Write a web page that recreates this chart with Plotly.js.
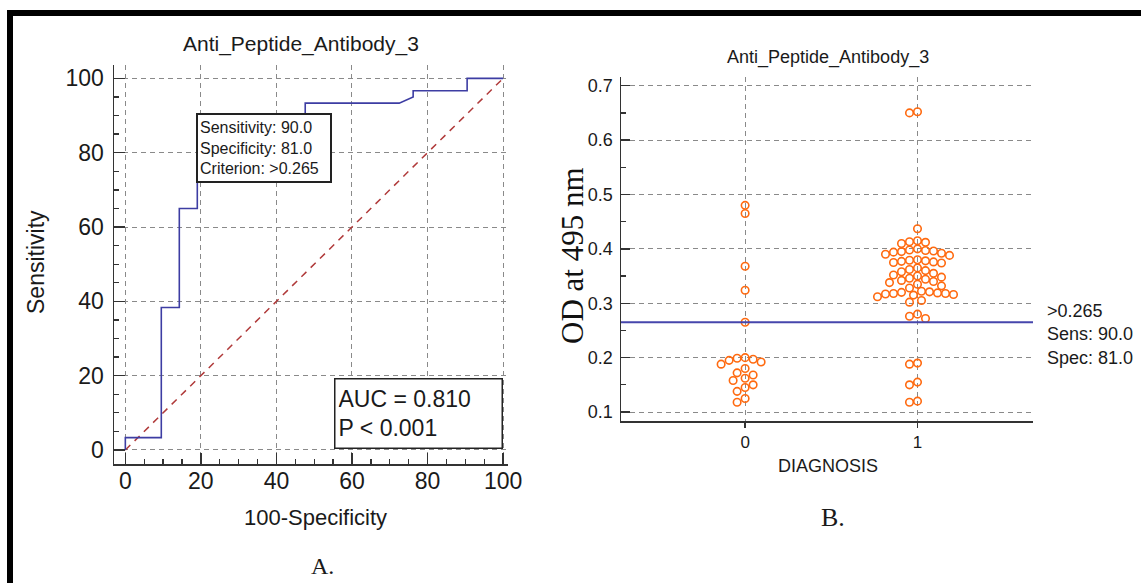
<!DOCTYPE html>
<html>
<head>
<meta charset="utf-8">
<script src="https://cdn.plot.ly/plotly-3.0.1.min.js"></script>
<style>
html,body{margin:0;padding:0;background:#fff;}
#chart{width:1141px;height:583px;}
</style>
</head>
<body>
<div id="chart"></div>
<script>
// ---------- DATA ----------
const chartTitle = "Anti_Peptide_Antibody_3";
// ROC curve (100-Specificity, Sensitivity)
const rocFPR  = [0, 0, 9.52, 9.52, 14.29, 14.29, 19.05, 19.05, 47.62, 47.62, 72.5, 76.19, 76.19, 90.48, 90.48, 100];
const rocSens = [0, 3.33, 3.33, 38.33, 38.33, 65, 65, 90, 90, 93.33, 93.33, 95, 96.67, 96.67, 100, 100];
const refLineX = [0, 100];
const refLineY = [0, 100];
const aucText = ["AUC = 0.810", "P < 0.001"];
const optSens = 90.0, optSpec = 81.0, criterion = 0.265;

// Dot plot: OD at 495 nm by DIAGNOSIS group
const diagCategories = [0, 1];
const odGroup0 = [0.480, 0.465, 0.368, 0.324, 0.265,
  0.200, 0.199, 0.197, 0.195, 0.192, 0.188, 0.180, 0.172, 0.168, 0.162, 0.158, 0.150, 0.145, 0.138, 0.125, 0.118];
const odGroup1 = [0.652, 0.650, 0.437,
  0.415, 0.413, 0.412, 0.410,
  0.400, 0.398, 0.397, 0.396, 0.395, 0.394, 0.392, 0.390, 0.388,
  0.380, 0.379, 0.378, 0.377, 0.376, 0.375, 0.374,
  0.365, 0.362, 0.360, 0.358, 0.355, 0.352, 0.350, 0.348, 0.346, 0.344, 0.342, 0.340, 0.338, 0.335, 0.332, 0.328,
  0.322, 0.321, 0.320, 0.319, 0.318, 0.318, 0.317, 0.316, 0.315, 0.312, 0.305, 0.302, 0.280, 0.276, 0.272,
  0.190, 0.188, 0.155, 0.150, 0.120, 0.118];

// ---------- LAYOUT GEOMETRY ----------
const W = 1141, H = 583;
const px = v => v / W;
const py = v => 1 - v / H;

const x1Range = [-3.0, 101.3], y1Range = [-3.77, 103.6];
const x2Range = [-0.72, 1.67], y2Range = [0.0835, 0.716];
const x2Dom = [px(621), px(1033)], y2Dom = [py(421), py(77)];

// beeswarm offsets computed from values (pixel-based collision)
function swarm(vals, center) {
  const xPxPerUnit = (x2Dom[1] - x2Dom[0]) * W / (x2Range[1] - x2Range[0]);
  const yPxPerUnit = (y2Dom[1] - y2Dom[0]) * H / (y2Range[1] - y2Range[0]);
  const d = 8.0, step = 4.0;
  const order = vals.map((v, i) => i).sort((a, b) => vals[b] - vals[a]);
  const placed = [];
  const xs = new Array(vals.length);
  for (const i of order) {
    const yp = vals[i] * yPxPerUnit;
    let chosen = 0;
    for (let k = 0; k < 200; k++) {
      const off = (k % 2 === 0 ? 1 : -1) * Math.ceil(k / 2) * step;
      let ok = true;
      for (const p of placed) {
        const dx = p[0] - off, dy = p[1] - yp;
        if (dx * dx + dy * dy < d * d) { ok = false; break; }
      }
      if (ok) { chosen = off; break; }
    }
    placed.push([chosen, yp]);
    xs[i] = center + chosen / xPxPerUnit;
  }
  return xs;
}

const orange = '#ff6a10';
const navy = '#3d3da3';
const textCol = '#1a1a1a';
const sans = 'Liberation Sans, Arial, sans-serif';
const serif = 'Liberation Serif, Times New Roman, serif';

const traces = [
  {x: refLineX, y: refLineY, xaxis: 'x', yaxis: 'y', mode: 'lines',
   line: {color: '#b03a3a', width: 1.5, dash: '7px,6px'}, hoverinfo: 'skip'},
  {x: rocFPR, y: rocSens, xaxis: 'x', yaxis: 'y', mode: 'lines',
   line: {color: navy, width: 1.6}},
  {x: swarm(odGroup0, diagCategories[0]), y: odGroup0, xaxis: 'x2', yaxis: 'y2', mode: 'markers',
   marker: {symbol: 'circle-open', size: 7.5, color: orange, line: {width: 1.6, color: orange}}},
  {x: swarm(odGroup1, diagCategories[1]), y: odGroup1, xaxis: 'x2', yaxis: 'y2', mode: 'markers',
   marker: {symbol: 'circle-open', size: 7.5, color: orange, line: {width: 1.6, color: orange}}}
];

const axisCommon = {
  showline: true, linecolor: '#333', linewidth: 1.5, mirror: false,
  showgrid: true, gridcolor: '#8a8a8a', griddash: '5px,4px', gridwidth: 1,
  zeroline: false, tickcolor: '#333', tickwidth: 1.3
};

const layout = {
  width: W, height: H, showlegend: false,
  paper_bgcolor: '#fff', plot_bgcolor: '#fff',
  margin: {l: 0, r: 0, t: 0, b: 0},
  xaxis: Object.assign({}, axisCommon, {
    domain: [px(114), px(508)], range: x1Range, anchor: 'y',
    tickvals: [0, 20, 40, 60, 80, 100], ticks: 'inside', ticklen: 11,
    minor: {dtick: 5, tick0: 0, ticks: 'inside', ticklen: 5, tickcolor: '#333', showgrid: false},
    tickfont: {family: sans, size: 23, color: textCol}, ticklabelstandoff: -4
  }),
  yaxis: Object.assign({}, axisCommon, {
    domain: [py(464), py(65)], range: y1Range, anchor: 'x',
    tickvals: [0, 20, 40, 60, 80, 100], ticks: 'inside', ticklen: 11,
    minor: {dtick: 5, tick0: 0, ticks: 'inside', ticklen: 5, tickcolor: '#333', showgrid: false},
    tickfont: {family: sans, size: 23, color: textCol}, ticklabelstandoff: 4
  }),
  xaxis2: Object.assign({}, axisCommon, {
    domain: x2Dom, range: x2Range, anchor: 'y2',
    tickvals: diagCategories, ticktext: diagCategories.map(String), ticks: 'outside', ticklen: 5,
    tickfont: {family: sans, size: 17, color: textCol}
  }),
  yaxis2: Object.assign({}, axisCommon, {
    domain: y2Dom, range: y2Range, anchor: 'x2',
    tickvals: [0.1, 0.2, 0.3, 0.4, 0.5, 0.6, 0.7], ticks: 'inside', ticklen: 9,
    minor: {dtick: 0.05, tick0: 0, ticks: 'inside', ticklen: 5, tickcolor: '#333', showgrid: false},
    tickfont: {family: sans, size: 18, color: textCol}, ticklabelstandoff: 3
  }),
  shapes: [
    {type: 'line', xref: 'x2 domain', yref: 'y2', x0: 0, x1: 1, y0: criterion, y1: criterion,
     line: {color: '#4646ac', width: 2}},
    {type: 'rect', xref: 'paper', yref: 'paper', x0: px(10), x1: 1.05, y0: -0.05, y1: py(13),
     line: {color: '#000', width: 6}, fillcolor: 'rgba(0,0,0,0)'}
  ],
  annotations: [
    {xref: 'paper', yref: 'paper', x: px(301), y: py(44), text: chartTitle, showarrow: false,
     font: {family: sans, size: 21, color: textCol}, xanchor: 'center', yanchor: 'middle'},
    {xref: 'paper', yref: 'paper', x: px(36), y: py(262), text: 'Sensitivity', showarrow: false, textangle: -90,
     font: {family: sans, size: 23, color: textCol}, xanchor: 'center', yanchor: 'middle'},
    {xref: 'paper', yref: 'paper', x: px(315), y: py(517), text: '100-Specificity', showarrow: false,
     font: {family: sans, size: 22, color: textCol}, xanchor: 'center', yanchor: 'middle'},
    {xref: 'paper', yref: 'paper', x: px(322), y: py(566), text: 'A.', showarrow: false,
     font: {family: serif, size: 24, color: textCol}, xanchor: 'center', yanchor: 'middle'},
    {xref: 'paper', yref: 'paper', x: px(196), y: py(113), xanchor: 'left', yanchor: 'top', showarrow: false,
     text: 'Sensitivity: ' + optSens.toFixed(1) + '<br>Specificity: ' + optSpec.toFixed(1) + '<br>Criterion: &gt;' + criterion.toFixed(3),
     align: 'left', valign: 'middle', width: 128, height: 62, borderpad: 2,
     bgcolor: '#fff', bordercolor: '#222', borderwidth: 2,
     font: {family: sans, size: 16, color: textCol}},
    {xref: 'paper', yref: 'paper', x: px(334), y: py(378), xanchor: 'left', yanchor: 'top', showarrow: false,
     text: aucText[0] + '<br>' + aucText[1].replace('<', '&lt;'),
     align: 'left', valign: 'middle', width: 160, height: 62, borderpad: 3,
     bgcolor: '#fff', bordercolor: '#222', borderwidth: 1.5,
     font: {family: sans, size: 23, color: textCol}},
    {xref: 'paper', yref: 'paper', x: px(828), y: py(57), text: chartTitle, showarrow: false,
     font: {family: sans, size: 18, color: textCol}, xanchor: 'center', yanchor: 'middle'},
    {xref: 'paper', yref: 'paper', x: px(572), y: py(256), text: 'OD at 495 nm', showarrow: false, textangle: -90,
     font: {family: serif, size: 31, color: '#111'}, xanchor: 'center', yanchor: 'middle'},
    {xref: 'paper', yref: 'paper', x: px(828), y: py(466), text: 'DIAGNOSIS', showarrow: false,
     font: {family: sans, size: 18, color: textCol}, xanchor: 'center', yanchor: 'middle'},
    {xref: 'paper', yref: 'paper', x: px(833), y: py(517), text: 'B.', showarrow: false,
     font: {family: serif, size: 26, color: textCol}, xanchor: 'center', yanchor: 'middle'},
    {xref: 'paper', yref: 'paper', x: px(1045), y: py(334), xanchor: 'left', yanchor: 'middle', showarrow: false,
     text: '&gt;' + criterion.toFixed(3) + '<br>Sens: ' + optSens.toFixed(1) + '<br>Spec: ' + optSpec.toFixed(1),
     align: 'left', font: {family: sans, size: 18, color: textCol}}
  ]
};

Plotly.newPlot('chart', traces, layout, {displayModeBar: false, staticPlot: true});
</script>
</body>
</html>
